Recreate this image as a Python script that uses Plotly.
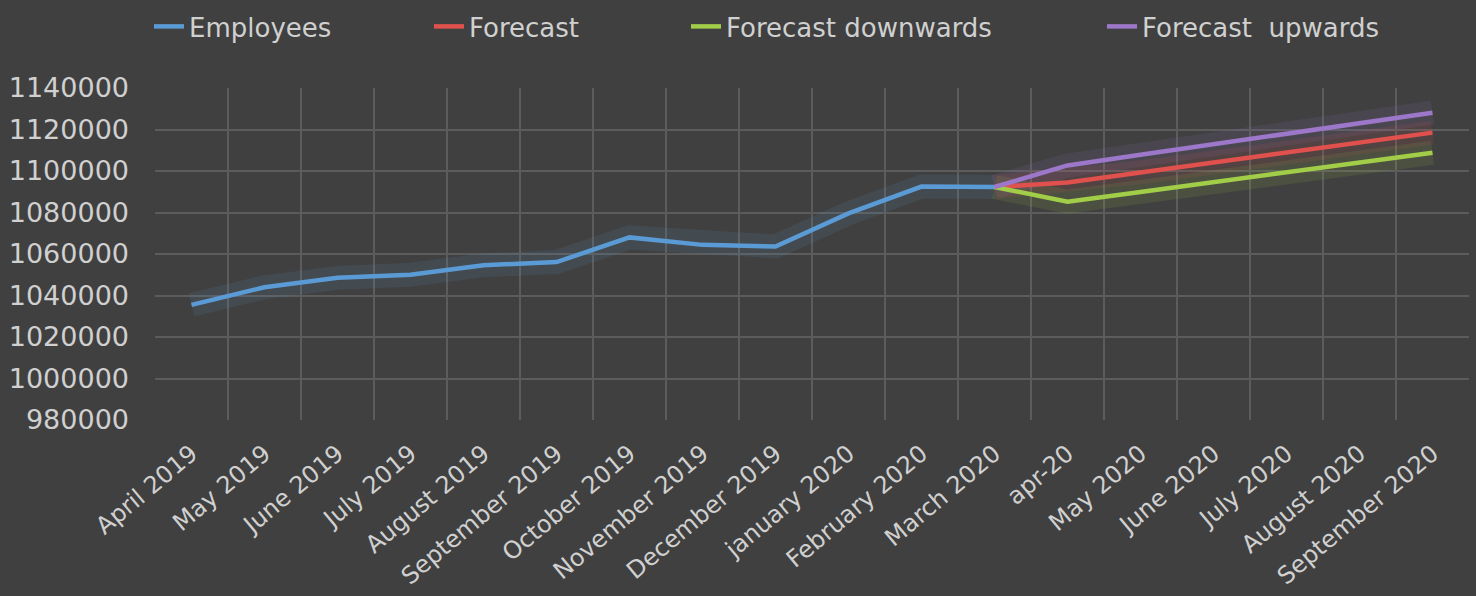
import plotly.graph_objects as go

months = ["April 2019", "May 2019", "June 2019", "July 2019", "August 2019",
          "September 2019", "October 2019", "November 2019", "December 2019",
          "january 2020", "February 2020", "March 2020", "apr-20", "May 2020",
          "June 2020", "July 2020", "August 2020", "September 2020"]

employees = [1035500, 1044000, 1048500, 1050000, 1054600, 1056100, 1068000,
             1064400, 1063600, 1079600, 1092500, 1092300,
             None, None, None, None, None, None]

forecast = [None] * 11 + [1092300, 1094500, 1099300, 1104000, 1108800, 1113600, 1118500]
forecast_down = [None] * 11 + [1092300, 1085200, 1089900, 1094600, 1099300, 1104000, 1108800]
forecast_up = [None] * 11 + [1092300, 1102700, 1107800, 1112900, 1118000, 1123000, 1128100]

series_names = ["Employees", "Forecast", "Forecast downwards", "Forecast  upwards"]
series_values = [employees, forecast, forecast_down, forecast_up]
series_colors = ["#5b9bd5", "#e0514e", "#a2cd48", "#9d77c9"]
glow_colors = ["rgba(91,155,213,0.11)", "rgba(224,81,78,0.11)",
               "rgba(162,205,72,0.11)", "rgba(157,119,201,0.11)"]
legend_ids = ["legend", "legend2", "legend3", "legend4"]
legend_left_px = [149, 429, 686, 1102]

FONT = "DejaVu Sans"
TXT = "#d0d0d0"
BG = "#404040"
GRID = "#5c5c5c"
W, H = 1476, 596

fig = go.Figure()

# soft glow under each line
for vals, glow in zip(series_values, glow_colors):
    fig.add_trace(go.Scatter(x=months, y=vals, mode="lines", showlegend=False,
                             hoverinfo="skip", line=dict(color=glow, width=24)))

for name, vals, col, lid in zip(series_names, series_values, series_colors, legend_ids):
    fig.add_trace(go.Scatter(x=months, y=vals, mode="lines", name=name,
                             legend=lid, line=dict(color=col, width=4.5)))

legend_layout = {}
for lid, lx in zip(legend_ids, legend_left_px):
    legend_layout[lid] = dict(orientation="h", xref="container", yref="container",
                              x=lx / W, xanchor="left", y=0.995, yanchor="top",
                              font=dict(family=FONT, size=26, color=TXT),
                              bgcolor="rgba(0,0,0,0)")

fig.update_layout(
    width=W, height=H,
    paper_bgcolor=BG, plot_bgcolor=BG,
    margin=dict(l=155, r=7, t=88, b=176, autoexpand=False),
    font=dict(family=FONT, size=26, color=TXT),
    xaxis=dict(type="category", range=[-0.5, 17.5], tickangle=-40,
               showgrid=True, gridcolor=GRID, gridwidth=2,
               tickson="boundaries", ticks="", showline=False,
               zeroline=False, ticklabelstandoff=14, automargin=False,
               tickfont=dict(family=FONT, size=24, color=TXT)),
    yaxis=dict(range=[980000, 1140000], dtick=20000, tick0=980000,
               tickformat="d", showgrid=True, gridcolor=GRID, gridwidth=2,
               zeroline=False, showline=False, ticks="", automargin=False,
               ticklabelstandoff=25,
               tickfont=dict(family=FONT, size=27, color=TXT)),
    shapes=[dict(type="rect", xref="paper", yref="y", x0=-0.01, x1=1.01,
                 y0=979000, y1=999000, fillcolor=BG, line=dict(width=0),
                 layer="between")],
    **legend_layout,
)

fig.write_html("out.html")
